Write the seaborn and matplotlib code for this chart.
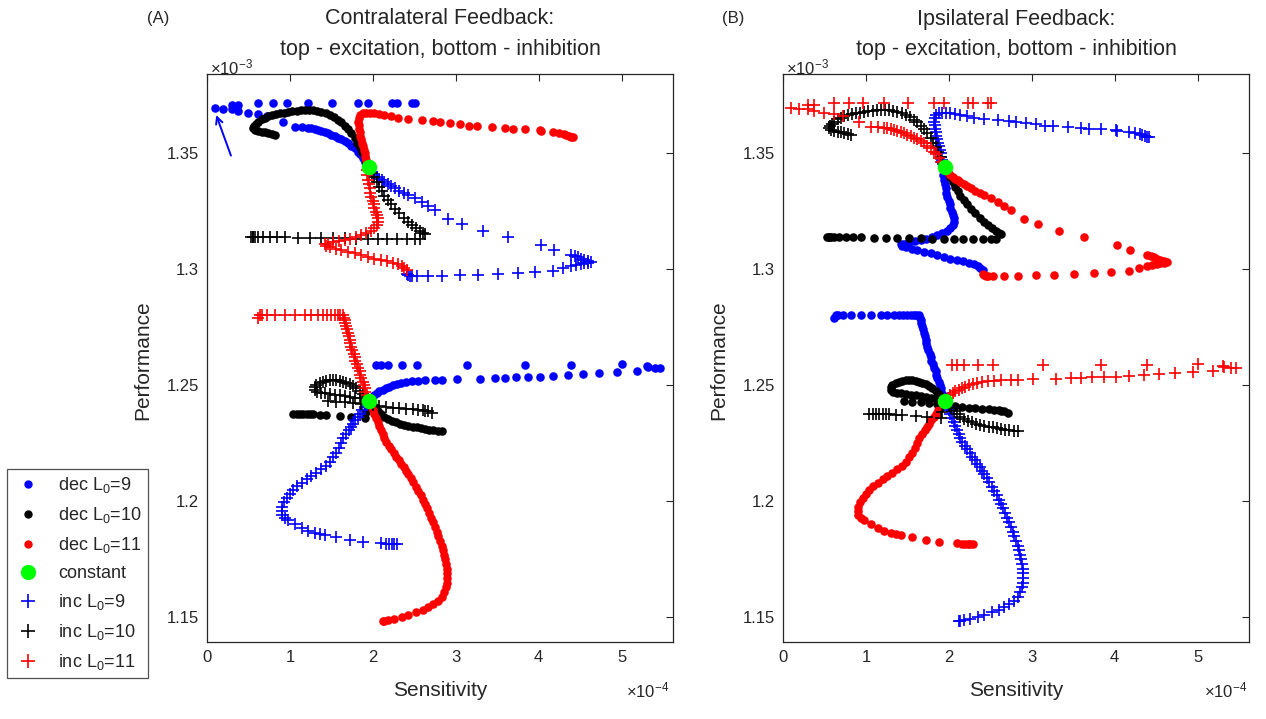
import numpy as np
import matplotlib
matplotlib.use("Agg")
import matplotlib.pyplot as plt
import seaborn as sns
from matplotlib.lines import Line2D

sns.set_theme(style="white")
plt.rcParams['font.family'] = ['Liberation Sans', 'DejaVu Sans']
plt.rcParams['mathtext.fontset'] = 'custom'
plt.rcParams['mathtext.rm'] = 'Liberation Sans'
plt.rcParams['mathtext.it'] = 'Liberation Sans:italic'
plt.rcParams['mathtext.default'] = 'regular'

# ---------------- data (x in 1e-4, y in 1e-3), panel A ----------------
A_dec9 = [(1.94,1.3440),(1.91,1.3460),(1.88,1.3478),(1.85,1.3494),(1.82,1.3506),(1.78,1.3520),(1.74,1.3532),
          (1.70,1.3542),(1.66,1.3552),(1.62,1.3560),(1.58,1.3567),(1.54,1.3573),(1.50,1.3580),(1.46,1.3585),
          (1.42,1.3590),(1.38,1.3595),(1.34,1.3599),(1.30,1.3603),(1.26,1.3607),(1.22,1.3610),(1.14,1.3612),
          (1.06,1.3614),(0.92,1.3634),(0.72,1.3660),(0.61,1.3668),(0.49,1.3672),(0.37,1.3680),(0.30,1.3690),
          (0.19,1.3688),(0.10,1.3694),(0.30,1.3707),(0.37,1.3707),(0.61,1.3718),(0.80,1.3718),(0.96,1.3718),
          (1.22,1.3718),(1.51,1.3718),(1.82,1.3718),(1.94,1.3718),(2.23,1.3718),(2.29,1.3718),(2.47,1.3718),
          (2.51,1.3718),
          (1.96,1.2436),(1.99,1.2446),(2.02,1.2456),(2.05,1.2465),(2.08,1.2473),(2.12,1.2480),(2.16,1.2487),
          (2.20,1.2493),(2.24,1.2498),(2.29,1.2503),(2.34,1.2507),(2.40,1.2512),(2.47,1.2516),(2.55,1.2519),
          (2.63,1.2522),(2.75,1.2523),(2.84,1.2523),(3.01,1.2525),(3.29,1.2527),(3.47,1.2529),(3.59,1.2532),
          (3.73,1.2533),(3.87,1.2534),(4.01,1.2536),(4.17,1.2539),(4.35,1.2543),(4.53,1.2547),(4.73,1.2553),
          (4.94,1.2557),(5.18,1.2562),(5.32,1.2579),(5.40,1.2572),(5.46,1.2572),(2.04,1.2586),(2.10,1.2586),
          (2.18,1.2586),(2.35,1.2586),(2.53,1.2586),(3.13,1.2588),(3.83,1.2588),(4.39,1.2588),(5.00,1.2590),
          (5.31,1.2582)]

A_dec10 = [(1.94,1.3440),(1.92,1.3462),(1.90,1.3485),(1.87,1.3505),(1.84,1.3525),(1.81,1.3545),(1.78,1.3565),
           (1.74,1.3585),(1.70,1.3603),(1.66,1.3618),(1.62,1.3632),(1.58,1.3642),(1.53,1.3654),(1.48,1.3664),
           (1.43,1.3672),(1.38,1.3678),(1.33,1.3682),(1.28,1.3685),(1.23,1.3686),(1.18,1.3686),(1.13,1.3685),
           (1.08,1.3683),(1.03,1.3681),(0.98,1.3678),(0.93,1.3675),(0.88,1.3671),(0.83,1.3668),(0.78,1.3664),
           (0.74,1.3658),(0.70,1.3652),(0.66,1.3645),(0.62,1.3636),(0.59,1.3627),(0.57,1.3618),(0.56,1.3608),
           (0.58,1.3600),(0.62,1.3595),(0.66,1.3592),(0.70,1.3589),(0.74,1.3586),(0.78,1.3582),(0.82,1.3578),
           (1.97,1.2425),(2.00,1.2412),(2.03,1.2400),(2.06,1.2388),(2.10,1.2375),(2.14,1.2364),(2.18,1.2355),
           (2.23,1.2347),(2.28,1.2340),(2.33,1.2334),(2.38,1.2329),(2.43,1.2325),(2.48,1.2321),(2.53,1.2317),
           (2.58,1.2313),(2.63,1.2310),(2.68,1.2307),(2.73,1.2304),(2.78,1.2302),(2.83,1.2300),
           (1.04,1.2375),(1.08,1.2375),(1.12,1.2375),(1.16,1.2375),(1.20,1.2375),(1.24,1.2375),(1.28,1.2374),
           (1.36,1.2372),(1.44,1.2370),(1.60,1.2366),(1.74,1.2362),(1.90,1.2357),(1.92,1.2385),(1.93,1.2410)]

A_dec11 = [(1.94,1.3440),(1.93,1.3455),(1.92,1.3470),(1.91,1.3485),(1.90,1.3500),(1.89,1.3515),(1.88,1.3530),
           (1.87,1.3545),(1.86,1.3560),(1.85,1.3575),(1.84,1.3590),(1.83,1.3605),(1.83,1.3620),(1.82,1.3635),
           (1.83,1.3650),(1.85,1.3663),(1.88,1.3672),(1.92,1.3675),(1.97,1.3674),(2.02,1.3671),(2.08,1.3668),
           (2.14,1.3664),(2.22,1.3658),(2.30,1.3652),(2.43,1.3647),(2.59,1.3642),(2.73,1.3638),(2.81,1.3635),
           (2.93,1.3628),(3.05,1.3624),(3.16,1.3618),(3.26,1.3615),(3.44,1.3612),(3.59,1.3609),(3.69,1.3605),
           (3.83,1.3602),(4.01,1.3598),(4.03,1.3595),(4.17,1.3592),(4.25,1.3585),(4.30,1.3582),(4.33,1.3578),
           (4.36,1.3575),(4.39,1.3570),(4.41,1.3568),
           (1.96,1.2425),(1.98,1.2408),(2.00,1.2392),(2.02,1.2375),(2.04,1.2358),(2.06,1.2340),(2.08,1.2322),
           (2.10,1.2304),(2.12,1.2287),(2.14,1.2270),(2.16,1.2254),(2.19,1.2238),(2.22,1.2222),(2.25,1.2206),
           (2.28,1.2190),(2.31,1.2175),(2.34,1.2160),(2.37,1.2145),(2.40,1.2130),(2.43,1.2115),(2.46,1.2098),
           (2.49,1.2080),(2.52,1.2062),(2.55,1.2044),(2.58,1.2025),(2.60,1.2006),(2.63,1.1987),(2.65,1.1968),
           (2.68,1.1948),(2.70,1.1928),(2.73,1.1908),(2.75,1.1888),(2.77,1.1868),(2.79,1.1848),(2.81,1.1828),
           (2.83,1.1808),(2.85,1.1788),(2.86,1.1768),(2.87,1.1748),(2.88,1.1728),(2.89,1.1708),(2.89,1.1688),
           (2.89,1.1668),(2.89,1.1648),(2.88,1.1628),(2.86,1.1608),(2.83,1.1588),(2.79,1.1570),(2.73,1.1556),
           (2.67,1.1545),(2.60,1.1532),(2.52,1.1520),(2.43,1.1510),(2.35,1.1500),(2.26,1.1492),(2.18,1.1486),
           (2.14,1.1484),(2.12,1.1482)]

A_inc9 = [(1.96,1.3432),(1.99,1.3420),(2.02,1.3405),(2.05,1.3398),(2.08,1.3390),(2.11,1.3383),(2.14,1.3376),
          (2.18,1.3368),(2.22,1.3360),(2.27,1.3348),(2.32,1.3338),(2.37,1.3328),(2.43,1.3319),(2.51,1.3305),
          (2.59,1.3290),(2.67,1.3272),(2.75,1.3254),(2.91,1.3214),(3.07,1.3194),(3.33,1.3165),(3.63,1.3137),
          (4.03,1.3103),(4.19,1.3082),(4.39,1.3060),(4.44,1.3055),(4.47,1.3050),(4.51,1.3045),(4.55,1.3039),
          (4.60,1.3033),(4.63,1.3029),(4.59,1.3026),(4.55,1.3025),(4.51,1.3022),(4.45,1.3018),(4.39,1.3014),
          (4.29,1.3003),(4.17,1.2993),(3.95,1.2988),(3.75,1.2984),(3.51,1.2978),(3.27,1.2974),(3.05,1.2974),
          (2.83,1.2971),(2.67,1.2970),(2.53,1.2970),(2.47,1.2970),(2.45,1.2970),(2.42,1.2974),(2.41,1.2978),
          (1.93,1.2420),(1.90,1.2407),(1.87,1.2392),(1.84,1.2377),(1.82,1.2363),(1.79,1.2348),(1.76,1.2334),
          (1.74,1.2320),(1.71,1.2305),(1.68,1.2290),(1.64,1.2270),(1.62,1.2249),(1.59,1.2228),(1.56,1.2206),
          (1.52,1.2188),(1.48,1.2170),(1.43,1.2153),(1.38,1.2137),(1.32,1.2122),(1.26,1.2108),(1.20,1.2093),
          (1.14,1.2079),(1.09,1.2064),(1.04,1.2048),(1.00,1.2030),(0.96,1.2012),(0.93,1.1994),(0.91,1.1976),
          (0.90,1.1958),(0.91,1.1940),(0.94,1.1928),(0.98,1.1918),(1.06,1.1900),(1.14,1.1882),(1.22,1.1872),
          (1.30,1.1863),(1.36,1.1858),(1.42,1.1854),(1.56,1.1844),(1.72,1.1832),(1.88,1.1825),(2.10,1.1818),
          (2.16,1.1816),(2.20,1.1815),(2.23,1.1815),(2.26,1.1815),(2.29,1.1815)]

A_inc10 = [(1.96,1.3430),(1.99,1.3415),(2.02,1.3395),(2.05,1.3375),(2.08,1.3355),(2.11,1.3335),(2.14,1.3315),
           (2.18,1.3297),(2.22,1.3280),(2.27,1.3260),(2.32,1.3240),(2.37,1.3222),(2.42,1.3205),(2.47,1.3190),
           (2.52,1.3176),(2.57,1.3164),(2.61,1.3155),(2.63,1.3150),
           (0.53,1.3140),(0.55,1.3140),(0.56,1.3139),(0.58,1.3139),(0.62,1.3139),(0.68,1.3138),(0.76,1.3138),
           (0.84,1.3137),(0.94,1.3137),(1.10,1.3136),(1.24,1.3135),(1.38,1.3134),(1.52,1.3133),(1.66,1.3132),
           (1.80,1.3131),(1.94,1.3131),(2.06,1.3130),(2.17,1.3130),(2.29,1.3129),(2.41,1.3129),(2.51,1.3128),
           (2.57,1.3128),
           (1.92,1.2450),(1.88,1.2462),(1.84,1.2474),(1.80,1.2485),(1.76,1.2495),(1.72,1.2503),(1.68,1.2510),
           (1.64,1.2515),(1.60,1.2518),(1.56,1.2520),(1.52,1.2521),(1.48,1.2520),(1.44,1.2518),(1.40,1.2514),
           (1.36,1.2508),(1.32,1.2500),(1.30,1.2490),(1.30,1.2480),(1.33,1.2472),(1.37,1.2467),(1.42,1.2464),
           (1.48,1.2461),(1.54,1.2458),(1.60,1.2455),(1.66,1.2452),(1.72,1.2449),(1.78,1.2446),(1.84,1.2443),
           (1.46,1.2430),(1.56,1.2428),(1.66,1.2426),(1.76,1.2424),(1.86,1.2420),(2.00,1.2412),(2.08,1.2408),
           (2.16,1.2405),(2.24,1.2402),(2.32,1.2400),(2.40,1.2398),(2.48,1.2396),(2.55,1.2394),(2.60,1.2392),
           (2.63,1.2390),(2.67,1.2386),(2.71,1.2381)]

A_inc11 = [(1.93,1.3425),(1.93,1.3405),(1.94,1.3385),(1.95,1.3365),(1.96,1.3348),(1.97,1.3330),(1.98,1.3312),
           (2.00,1.3295),(2.01,1.3280),(2.02,1.3265),(2.04,1.3248),(2.05,1.3232),(2.06,1.3218),(2.06,1.3205),
           (2.05,1.3192),(2.02,1.3178),(1.98,1.3166),(1.92,1.3155),(1.86,1.3145),(1.80,1.3137),(1.73,1.3130),
           (1.66,1.3125),(1.59,1.3120),(1.52,1.3116),(1.46,1.3110),(1.42,1.3106),(1.44,1.3100),(1.48,1.3094),
           (1.55,1.3088),(1.62,1.3082),(1.70,1.3075),(1.78,1.3068),(1.86,1.3060),(1.94,1.3050),(2.02,1.3044),
           (2.10,1.3039),(2.17,1.3033),(2.24,1.3027),(2.30,1.3020),(2.35,1.3013),(2.38,1.3005),(2.41,1.2996),
           (1.93,1.2455),(1.91,1.2470),(1.90,1.2485),(1.89,1.2500),(1.88,1.2515),(1.86,1.2530),(1.85,1.2545),
           (1.84,1.2560),(1.82,1.2575),(1.81,1.2590),(1.79,1.2605),(1.78,1.2620),(1.77,1.2635),(1.75,1.2650),
           (1.74,1.2665),(1.73,1.2680),(1.72,1.2695),(1.71,1.2710),(1.70,1.2725),(1.69,1.2740),(1.68,1.2755),
           (1.67,1.2768),(1.66,1.2780),(1.65,1.2790),(1.64,1.2800),(1.61,1.2802),(1.58,1.2802),(1.54,1.2802),
           (1.50,1.2802),(1.45,1.2802),(1.40,1.2802),(1.34,1.2802),(1.26,1.2802),(1.18,1.2802),(1.06,1.2802),
           (0.94,1.2802),(0.82,1.2802),(0.72,1.2802),(0.66,1.2802),(0.64,1.2800),(0.62,1.2790)]

constant_x = [1.95, 1.95]
constant_y = [1.3440, 1.2432]

# panel B shows the mirrored arrangement of the same curves
panel_A = {'dec9': A_dec9, 'dec10': A_dec10, 'dec11': A_dec11,
           'inc9': A_inc9, 'inc10': A_inc10, 'inc11': A_inc11}
panel_B = {'dec9': A_inc11, 'dec10': A_inc10, 'dec11': A_inc9,
           'inc9': A_dec11, 'inc10': A_dec10, 'inc11': A_dec9}

series_order = ['dec9', 'dec10', 'dec11', 'inc9', 'inc10', 'inc11']
labels = ['dec L$_0$=9', 'dec L$_0$=10', 'dec L$_0$=11', 'constant',
          'inc L$_0$=9', 'inc L$_0$=10', 'inc L$_0$=11']
xticks = [0, 1, 2, 3, 4, 5]
yticks = [1.15, 1.2, 1.25, 1.3, 1.35]
yticklabels = ['1.15', '1.2', '1.25', '1.3', '1.35']

COL = {'9': (0, 0, 1), '10': (0, 0, 0), '11': (1, 0, 0)}
GREEN = (0, 1, 0)
AX_C = '0.15'

W, H = 1266, 719
fig = plt.figure(figsize=(W / 100, H / 100), dpi=100)


def px_box(x0, y0, x1, y1):
    return [x0 / W, 1 - y1 / H, (x1 - x0) / W, (y1 - y0) / H]


def draw(ax, data):
    for key in series_order:
        pts = np.array(data[key])
        c = COL[key[3:]]
        if key.startswith('dec'):
            sns.scatterplot(x=pts[:, 0], y=pts[:, 1], ax=ax, color=c, marker='o',
                            s=38, linewidth=0, legend=False)
        else:
            sns.scatterplot(x=pts[:, 0], y=pts[:, 1], ax=ax, color=c, marker='+',
                            s=72, linewidth=1.2, legend=False)
    sns.scatterplot(x=constant_x, y=constant_y, ax=ax, color=GREEN, marker='o',
                    s=125, linewidth=0, legend=False, zorder=5)
    ax.set_xlim(0, 5.62)
    ax.set_ylim(1.1392, 1.3841)
    ax.set_xticks(xticks)
    ax.set_xticklabels([str(t) for t in xticks])
    ax.set_yticks(yticks)
    ax.set_yticklabels(yticklabels)
    ax.tick_params(direction='in', top=True, right=True, length=5, width=0.8,
                   labelsize=12, colors=AX_C, pad=6)
    for s in ax.spines.values():
        s.set_color(AX_C)
        s.set_linewidth(0.9)
    ax.set_xlabel('')
    ax.set_ylabel('')


axA = fig.add_axes(px_box(207, 74, 673, 642))
axB = fig.add_axes(px_box(783, 74, 1249, 642))
draw(axA, panel_A)
draw(axB, panel_B)

axA.annotate('', xy=(0.10, 1.3675), xytext=(0.30, 1.3478),
             arrowprops=dict(arrowstyle='->', color=(0, 0, 1), lw=1.4))

TXT = '0.15'
for (cx, lab, title, xl, x3, yl) in [(440, '(A)', 'Contralateral Feedback:', 147, 210, 143),
                                     (1016, '(B)', 'Ipsilateral Feedback:', 722, 786, 719)]:
    fig.text(xl / W, 1 - 18 / H, lab, ha='left', va='center', fontsize=12, color=TXT)
    fig.text(cx / W, 1 - 19 / H, title, ha='center', va='center', fontsize=15.5, color=TXT)
    fig.text(cx / W, 1 - 50 / H, 'top - excitation, bottom - inhibition', ha='center',
             va='center', fontsize=15.5, color=TXT)
    fig.text(x3 / W, 1 - 67 / H, '×10$^{-3}$', ha='left', va='center', fontsize=12, color=TXT)
    fig.text(cx / W, 1 - 690 / H, 'Sensitivity', ha='center', va='center', fontsize=15, color=TXT)
    fig.text(yl / W, 1 - 360 / H, 'Performance', ha='center', va='center', rotation=90,
             fontsize=15, color=TXT)
fig.text(669 / W, 1 - 690 / H, '×10$^{-4}$', ha='right', va='center', fontsize=12, color=TXT)
fig.text(1247 / W, 1 - 690 / H, '×10$^{-4}$', ha='right', va='center', fontsize=12, color=TXT)

handles = [
    Line2D([], [], ls='', marker='o', color=COL['9'], markersize=5),
    Line2D([], [], ls='', marker='o', color=COL['10'], markersize=5),
    Line2D([], [], ls='', marker='o', color=COL['11'], markersize=5),
    Line2D([], [], ls='', marker='o', color=GREEN, markersize=10),
    Line2D([], [], ls='', marker='+', color=COL['9'], markersize=10, mew=1.2),
    Line2D([], [], ls='', marker='+', color=COL['10'], markersize=10, mew=1.2),
    Line2D([], [], ls='', marker='+', color=COL['11'], markersize=10, mew=1.2),
]
leg = fig.legend(handles, labels, loc='upper left', bbox_to_anchor=(7 / W, 1 - 469 / H),
                 frameon=True, fancybox=False, edgecolor=AX_C, fontsize=13,
                 labelspacing=0.55, handlelength=1.6, handletextpad=0.9,
                 borderpad=0.35, borderaxespad=0)
leg.get_frame().set_linewidth(0.9)
for t in leg.get_texts():
    t.set_color(TXT)

fig.savefig('out.png', dpi=100, facecolor='white')
